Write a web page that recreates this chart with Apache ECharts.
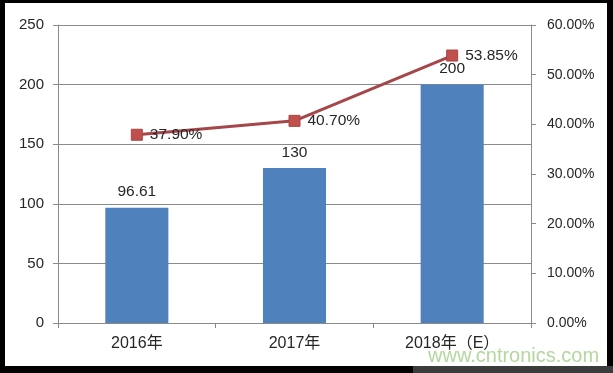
<!DOCTYPE html>
<html>
<head>
<meta charset="utf-8">
<script src="https://cdn.jsdelivr.net/npm/echarts@6/dist/echarts.min.js"></script>
<style>
html,body{margin:0;padding:0;background:#000;}
#wrap{position:relative;width:613px;height:373px;background:#000;overflow:hidden;}
#paper{position:absolute;left:5px;top:3px;width:602px;height:363px;background:#fff;}
#band{position:absolute;left:413px;top:366px;width:200px;height:7px;background:#3c3c3c;}
#chart{position:absolute;left:0;top:0;width:613px;height:373px;}
</style>
</head>
<body>
<div id="wrap"><div id="paper"></div><div id="band"></div><div id="chart"></div></div>
<script>
const categories = ['2016年', '2017年', '2018年（E）'];
const barValues = [96.61, 130, 200];
const rateValues = [37.90, 40.70, 53.85];
const leftTicks = [0, 50, 100, 150, 200, 250];
const rightTicks = [0, 10, 20, 30, 40, 50, 60];

const FONT = '"Liberation Sans", Arial, "Noto Sans CJK SC", sans-serif';
const TXT = '#262626';
const GRID = '#8a8a8a';

const chart = echarts.init(document.getElementById('chart'), null, {renderer: 'canvas'});
chart.setOption({
  backgroundColor: 'transparent',
  animation: false,
  textStyle: {fontFamily: FONT},
  grid: {left: 58, right: 82, top: 25, bottom: 50},
  xAxis: {
    type: 'category',
    data: categories,
    boundaryGap: true,
    axisLine: {lineStyle: {color: GRID, width: 1}},
    axisTick: {show: true, length: 5, lineStyle: {color: GRID}},
    axisLabel: {color: TXT, fontSize: 16, margin: 13, fontFamily: FONT}
  },
  yAxis: [
    {
      type: 'value',
      min: leftTicks[0],
      max: leftTicks[leftTicks.length - 1],
      interval: 50,
      axisLine: {show: true, lineStyle: {color: GRID}},
      axisTick: {show: true, length: 5, lineStyle: {color: GRID}},
      splitLine: {show: true, lineStyle: {color: GRID, width: 1}},
      axisLabel: {color: TXT, fontSize: 15, margin: 14, fontFamily: FONT}
    },
    {
      type: 'value',
      min: rightTicks[0],
      max: rightTicks[rightTicks.length - 1],
      interval: 10,
      position: 'right',
      axisLine: {show: true, lineStyle: {color: GRID}},
      axisTick: {show: true, length: 5, lineStyle: {color: GRID}},
      splitLine: {show: false},
      axisLabel: {color: TXT, fontSize: 14, margin: 16, fontFamily: FONT,
        formatter: v => v.toFixed(2) + '%'}
    }
  ],
  series: [
    {
      type: 'bar',
      data: barValues,
      yAxisIndex: 0,
      barWidth: '40%',
      itemStyle: {color: '#4F81BD'},
      label: {show: true, position: 'top', distance: 8, color: TXT, fontSize: 15.5, fontFamily: FONT,
        formatter: p => String(p.value)}
    },
    {
      type: 'line',
      data: rateValues,
      yAxisIndex: 1,
      symbol: 'rect',
      symbolSize: 11,
      lineStyle: {color: '#A5474A', width: 3},
      itemStyle: {color: '#C0504D', borderColor: '#A94442', borderWidth: 1},
      label: {show: true, position: 'right', distance: 7, color: TXT, fontSize: 15.5, fontFamily: FONT,
        formatter: p => p.value.toFixed(2) + '%'},
      z: 5
    }
  ],
  graphic: [
    {
      type: 'text',
      left: 428,
      top: 346,
      style: {text: 'www.cntronics.com', fill: '#b4d79f', font: '20px "Liberation Sans", Arial, sans-serif'},
      z: 100
    }
  ]
});
</script>
</body>
</html>
